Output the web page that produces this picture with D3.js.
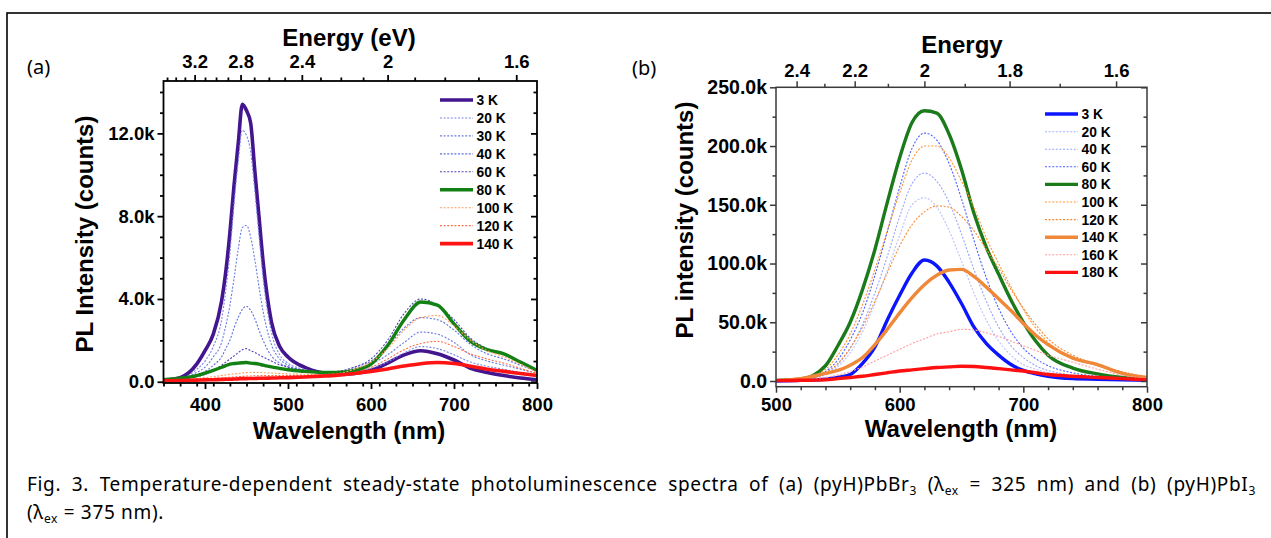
<!DOCTYPE html>
<html>
<head>
<meta charset="utf-8">
<script src="https://cdn.jsdelivr.net/npm/d3@7"></script>
<style>
body { margin: 0; background: #fff; }
svg { display: block; }
</style>
</head>
<body>
<script>
// ---------- panel (a): (pyH)PbBr3, intensity in thousands of counts ----------
var wlA = [350, 370, 390, 400, 410, 420, 425, 430, 435, 440, 445, 450, 455, 460, 465, 470, 480, 490, 500,
           520, 540, 560, 580, 600, 620, 640, 660, 680, 700, 720, 740, 760, 780, 800];
var a3K   = [0.08, 0.2, 0.85, 1.5, 2.3, 3.9, 5.3, 7.2, 9.5, 11.5, 13.4, 13.1, 12.5, 10.2, 8.0, 5.8, 2.9, 1.7, 1.2,
             0.7, 0.45, 0.35, 0.4, 0.55, 0.9, 1.3, 1.5, 1.35, 1.05, 0.65, 0.45, 0.3, 0.18, 0.1];
var a20K  = [0.07, 0.15, 0.6, 1.0, 1.7, 3.0, 4.4, 6.2, 8.6, 10.6, 12.15, 11.9, 11.1, 9.2, 7.1, 5.0, 2.4, 1.3, 0.9,
             0.6, 0.45, 0.4, 0.5, 0.65, 0.95, 1.4, 1.7, 1.6, 1.3, 0.95, 0.75, 0.6, 0.45, 0.3];
var a30K  = [0.06, 0.12, 0.45, 0.7, 1.2, 1.9, 2.7, 3.7, 5.0, 6.4, 7.45, 7.55, 7.0, 5.9, 4.6, 3.4, 1.8, 1.1, 0.8,
             0.55, 0.45, 0.45, 0.6, 0.85, 1.3, 1.9, 2.4, 2.3, 1.9, 1.3, 1.0, 0.8, 0.6, 0.4];
var a40K  = [0.05, 0.1, 0.35, 0.5, 0.8, 1.2, 1.6, 2.0, 2.6, 3.1, 3.5, 3.65, 3.45, 3.05, 2.5, 2.0, 1.25, 0.9, 0.72,
             0.55, 0.45, 0.5, 0.7, 1.0, 1.7, 2.6, 3.1, 3.0, 2.5, 1.8, 1.35, 1.1, 0.8, 0.5];
var a60K  = [0.05, 0.08, 0.25, 0.35, 0.55, 0.8, 0.95, 1.1, 1.25, 1.4, 1.55, 1.6, 1.5, 1.42, 1.3, 1.2, 1.0, 0.82, 0.7,
             0.55, 0.45, 0.5, 0.7, 1.1, 2.0, 3.3, 4.0, 3.7, 3.0, 2.1, 1.6, 1.35, 0.95, 0.5];
var a80K  = [0.1, 0.17, 0.3, 0.42, 0.55, 0.7, 0.78, 0.85, 0.88, 0.9, 0.92, 0.93, 0.9, 0.88, 0.85, 0.8, 0.72, 0.65, 0.58,
             0.5, 0.45, 0.45, 0.55, 0.85, 1.75, 3.0, 3.85, 3.7, 2.8, 1.95, 1.55, 1.35, 0.95, 0.55];
var a100K = [0.05, 0.08, 0.15, 0.2, 0.25, 0.3, 0.33, 0.36, 0.38, 0.4, 0.42, 0.44, 0.45, 0.45, 0.45, 0.44, 0.42, 0.4, 0.38,
             0.36, 0.35, 0.4, 0.6, 0.95, 1.6, 2.5, 3.1, 3.2, 2.7, 2.0, 1.5, 1.2, 0.85, 0.45];
var a120K = [0.04, 0.06, 0.1, 0.13, 0.16, 0.19, 0.2, 0.22, 0.23, 0.25, 0.26, 0.28, 0.28, 0.29, 0.29, 0.3, 0.3, 0.3, 0.3,
             0.3, 0.3, 0.35, 0.45, 0.7, 1.1, 1.55, 1.85, 1.95, 1.7, 1.35, 1.1, 0.9, 0.65, 0.4];
var a140K = [0.05, 0.06, 0.08, 0.09, 0.1, 0.11, 0.12, 0.12, 0.13, 0.14, 0.15, 0.15, 0.16, 0.16, 0.17, 0.17, 0.18, 0.19, 0.2,
             0.23, 0.27, 0.32, 0.4, 0.5, 0.62, 0.76, 0.87, 0.93, 0.88, 0.75, 0.6, 0.5, 0.4, 0.3];
var labelsA = ["3 K", "20 K", "30 K", "40 K", "60 K", "80 K", "100 K", "120 K", "140 K"];
var xTicksA = [400, 500, 600, 700, 800];
var yTicksA = [0, 4, 8, 12];
var eTicksA = [3.2, 2.8, 2.4, 2.0, 1.6];
var eLabelsA = ["3.2", "2.8", "2.4", "2", "1.6"];

// ---------- panel (b): (pyH)PbI3 ----------
var wlB = [500, 520, 540, 550, 560, 570, 580, 590, 600, 610, 620, 630, 640, 650, 660, 670, 680, 690, 700, 710, 720, 740, 760, 780, 800];
var b3K   = [0, 0.5, 1.5, 3, 5.5, 15, 29, 52, 73, 92, 103, 98, 84, 66, 46, 32, 22, 14, 9, 6, 4, 2, 1.5, 1, 0.5];
var b20K  = [0, 0.8, 5, 12, 24, 42, 66, 94, 124, 150, 156, 148, 128, 102, 75, 52, 34, 22, 14, 10, 7, 4, 2.5, 1.5, 1];
var b40K  = [0, 1, 6, 14, 28, 48, 75, 106, 140, 168, 177, 170, 152, 125, 95, 68, 46, 30, 20, 13, 9, 5, 3, 2, 1];
var b60K  = [0, 1, 8, 18, 35, 58, 90, 127, 165, 198, 211, 205, 185, 155, 120, 88, 62, 42, 28, 19, 13, 7, 4, 2.5, 1];
var b80K  = [0.5, 1.5, 13, 30, 50, 78, 112, 152, 190, 220, 230, 228, 210, 180, 143, 114, 91, 69, 50, 34, 22, 11, 6, 3, 1.5];
var b100K = [0.3, 1.5, 10, 22, 40, 65, 95, 128, 160, 188, 200, 200, 190, 170, 148, 122, 100, 80, 61, 45, 33, 20, 13, 7, 3];
var b120K = [0.2, 1, 7, 15, 28, 46, 68, 92, 115, 133, 144, 149, 148, 140, 128, 112, 96, 78, 62, 48, 36, 22, 14, 8, 3];
var b140K = [0.5, 2, 6.5, 9, 13.5, 20, 31, 44, 58, 71, 82, 90, 94.5, 95, 89, 80, 70, 60, 49, 39, 31, 19.5, 14, 6.5, 3];
var b160K = [0, 0.8, 3, 5, 8, 12, 17, 22, 27, 32, 36, 40, 42, 44, 43.5, 41, 38, 34, 30, 26, 22, 16, 10, 5, 2];
var b180K = [0.3, 0.6, 1, 2, 3, 4, 5.5, 7, 8.5, 9.5, 10.5, 11.5, 12, 12.5, 12.3, 11.5, 10.5, 9.5, 8.5, 7, 5.5, 4, 3, 2, 1];
var labelsB = ["3 K", "20 K", "40 K", "60 K", "80 K", "100 K", "120 K", "140 K", "160 K", "180 K"];
var xTicksB = [500, 600, 700, 800];
var yTicksB = [0, 50, 100, 150, 200, 250];
var eTicksB = [2.4, 2.2, 2.0, 1.8, 1.6];
var eLabelsB = ["2.4", "2.2", "2", "1.8", "1.6"];

var FONT = "'Liberation Sans', Arial, Helvetica, sans-serif";
var W = 1271, H = 538;

var svg = d3.select("body").append("svg").attr("width", W).attr("height", H);

// 外框
svg.append("rect").attr("x", 7).attr("y", 13).attr("width", 1300).attr("height", 600)
    .attr("fill", "none").attr("stroke", "#000").attr("stroke-width", 1.6);

// energy (eV) = 1240 / wavelength (nm) -> position on the wavelength scale
function energyScale(x) {
    var f = function (e) { return x(1240 / e); };
    f.copy = function () { return energyScale(x); };
    f.range = function () { return x.range(); };
    return f;
}

function range(a, b, step) {
    var out = [];
    for (var v = a; v <= b + 1e-9; v += step) out.push(+v.toFixed(4));
    return out;
}

function styleAxis(g, color, width, size) {
    g.select(".domain").remove();
    g.selectAll("line").attr("stroke", color).attr("stroke-width", width);
    g.attr("font-family", FONT).attr("font-weight", "bold").attr("font-size", size);
    g.selectAll("text").attr("fill", "#000");
}

function drawPanel(p) {
    var x = d3.scaleLinear().domain(p.xDomain).range([p.left, p.right]);
    var y = d3.scaleLinear().domain(p.yDomain).range([p.bottom, p.top]);
    var e = energyScale(x);
    var yMajor = p.yTicks, yMinor = range(p.yDomain[0] < 0 ? 0 : p.yDomain[0], p.yDomain[1], p.yMinorStep)
        .filter(function (v) { return yMajor.indexOf(v) < 0; });
    var xMinor = range(p.xDomain[0], p.xDomain[1], p.xMinorStep)
        .filter(function (v) { return p.xTicks.indexOf(v) < 0; });
    var eMinor = p.eMinor;

    var clipId = "clip" + p.id;
    svg.append("clipPath").attr("id", clipId).append("rect")
        .attr("x", p.left).attr("y", p.top).attr("width", p.right - p.left).attr("height", p.bottom - p.top);

    // curves
    var line = d3.line()
        .x(function (d) { return x(d[0]); })
        .y(function (d) { return y(d[1]); })
        .curve(d3.curveMonotoneX);
    var gc = svg.append("g").attr("clip-path", "url(#" + clipId + ")");
    p.series.forEach(function (s) {
        var pts = p.wl.map(function (w, i) { return [w, s.values[i]]; });
        gc.append("path").attr("d", line(pts)).attr("fill", "none")
            .attr("stroke", s.color).attr("stroke-width", s.width)
            .attr("stroke-dasharray", s.dash ? "2,1.6" : null)
            .attr("stroke-linejoin", "round");
    });

    // bottom axis
    var gb = svg.append("g").attr("transform", "translate(0," + p.bottom + ")")
        .call(d3.axisBottom(x).tickValues(p.xTicks).tickSize(6).tickPadding(p.xPad).tickFormat(d3.format("d")));
    styleAxis(gb, p.axisColor, p.axisWidth, p.xFont);
    var gbm = svg.append("g").attr("transform", "translate(0," + p.bottom + ")")
        .call(d3.axisBottom(x).tickValues(xMinor).tickSize(3.5).tickFormat(""));
    styleAxis(gbm, p.axisColor, p.axisWidth, p.xFont);

    // left axis
    var gl = svg.append("g").attr("transform", "translate(" + p.left + ",0)")
        .call(d3.axisLeft(y).tickValues(yMajor).tickSize(6).tickPadding(3)
            .tickFormat(function (d) { return d === 0 ? "0.0" : d.toFixed(1) + "k"; }));
    styleAxis(gl, p.axisColor, p.axisWidth, p.yFont);
    var glm = svg.append("g").attr("transform", "translate(" + p.left + ",0)")
        .call(d3.axisLeft(y).tickValues(yMinor).tickSize(3.5).tickFormat(""));
    styleAxis(glm, p.axisColor, p.axisWidth, p.yFont);

    // right axis, ticks inward
    var gr = svg.append("g").attr("transform", "translate(" + p.right + ",0)")
        .call(d3.axisLeft(y).tickValues(yMajor).tickSize(6).tickFormat(""));
    styleAxis(gr, p.axisColor, p.axisWidth, p.yFont);
    var grm = svg.append("g").attr("transform", "translate(" + p.right + ",0)")
        .call(d3.axisLeft(y).tickValues(yMinor).tickSize(3.5).tickFormat(""));
    styleAxis(grm, p.axisColor, p.axisWidth, p.yFont);

    // top energy axis
    var gt = svg.append("g").attr("transform", "translate(0," + p.top + ")")
        .call(d3.axisTop(e).tickValues(p.eTicks).tickSize(6).tickPadding(p.ePad)
            .tickFormat(function (d, i) { return p.eLabels[i]; }));
    styleAxis(gt, p.axisColor, p.axisWidth, p.xFont);
    var gtm = svg.append("g").attr("transform", "translate(0," + p.top + ")")
        .call(d3.axisTop(e).tickValues(eMinor).tickSize(3.5).tickFormat(""));
    styleAxis(gtm, p.axisColor, p.axisWidth, p.xFont);

    // frame
    svg.append("rect").attr("x", p.left).attr("y", p.top)
        .attr("width", p.right - p.left).attr("height", p.bottom - p.top)
        .attr("fill", "none").attr("stroke", p.axisColor).attr("stroke-width", p.axisWidth);

    // titles
    svg.append("text").attr("x", p.xTitleX).attr("y", p.xTitleY).attr("text-anchor", "middle")
        .attr("font-family", FONT).attr("font-weight", "bold").attr("font-size", 24).text("Wavelength (nm)");
    svg.append("text").attr("x", p.eTitleX).attr("y", p.eTitleY).attr("text-anchor", "middle")
        .attr("font-family", FONT).attr("font-weight", "bold").attr("font-size", 24).text(p.eTitle);
    svg.append("text").attr("transform", "translate(" + p.yTitleX + "," + p.yTitleY + ") rotate(-90)")
        .attr("text-anchor", "middle")
        .attr("font-family", FONT).attr("font-weight", "bold").attr("font-size", 24).text(p.yTitle);
    svg.append("text").attr("x", p.tagX).attr("y", p.tagY)
        .attr("font-family", "'Noto Sans', 'Open Sans', sans-serif").attr("font-size", 20).text(p.tag);

    // legend
    var lg = svg.append("g");
    p.series.forEach(function (s, i) {
        var ly = p.legY + i * p.legDy;
        lg.append("line").attr("x1", p.legX1).attr("x2", p.legX2).attr("y1", ly).attr("y2", ly)
            .attr("stroke", s.color).attr("stroke-width", s.width)
            .attr("stroke-dasharray", s.dash ? "2,1.6" : null);
        lg.append("text").attr("x", p.legX2 + 3.5).attr("y", ly).attr("dy", "0.36em")
            .attr("font-family", FONT).attr("font-weight", "bold").attr("font-size", p.legFont)
            .text(s.label);
    });
}

var seriesA = [
    { values: a3K,   color: "#43168f", width: 3.6, dash: false },
    { values: a20K,  color: "#7b86ea", width: 1.1, dash: true },
    { values: a30K,  color: "#6b7ce4", width: 1.1, dash: true },
    { values: a40K,  color: "#5c70dc", width: 1.1, dash: true },
    { values: a60K,  color: "#5242b0", width: 1.1, dash: true },
    { values: a80K,  color: "#138013", width: 3.4, dash: false },
    { values: a100K, color: "#ff9d5c", width: 1.1, dash: true },
    { values: a120K, color: "#ff6e4a", width: 1.1, dash: true },
    { values: a140K, color: "#ff1414", width: 3.6, dash: false }
];
seriesA.forEach(function (s, i) { s.label = labelsA[i]; });

var seriesB = [
    { values: b3K,   color: "#0b16ff", width: 3.4, dash: false },
    { values: b20K,  color: "#b9c0ff", width: 1.1, dash: true },
    { values: b40K,  color: "#97a4ff", width: 1.1, dash: true },
    { values: b60K,  color: "#4a60ff", width: 1.1, dash: true },
    { values: b80K,  color: "#1b7b1b", width: 3.4, dash: false },
    { values: b100K, color: "#ff9530", width: 1.1, dash: true },
    { values: b120K, color: "#f58a36", width: 1.1, dash: true },
    { values: b140K, color: "#f0883a", width: 3.4, dash: false },
    { values: b160K, color: "#ff9c9c", width: 1.1, dash: true },
    { values: b180K, color: "#ff1010", width: 3.4, dash: false }
];
seriesB.forEach(function (s, i) { s.label = labelsB[i]; });

drawPanel({
    id: "a", wl: wlA, series: seriesA,
    xDomain: [350, 800], yDomain: [-0.06, 14.53],
    left: 163.5, right: 537, top: 81, bottom: 383,
    xTicks: xTicksA, xMinorStep: 20, xPad: 9, xFont: 18.5,
    yTicks: yTicksA, yMinorStep: 1, yFont: 18.5,
    eTicks: eTicksA, eLabels: eLabelsA, ePad: 7,
    eMinor: [3.5, 3.4, 3.3, 3.1, 3.0, 2.9, 2.7, 2.6, 2.5, 2.3, 2.2, 2.1, 1.9, 1.8, 1.7],
    axisColor: "#000", axisWidth: 1.8,
    xTitleX: 349, xTitleY: 439, eTitleX: 349, eTitleY: 46, eTitle: "Energy (eV)",
    yTitleX: 93, yTitleY: 234, yTitle: "PL Intensity (counts)",
    tag: "(a)", tagX: 27, tagY: 74,
    legX1: 440, legX2: 473, legY: 100, legDy: 17.95, legFont: 13.8
});

drawPanel({
    id: "b", wl: wlB, series: seriesB,
    xDomain: [500, 800], yDomain: [-4.85, 250],
    left: 776, right: 1147, top: 87.3, bottom: 386.7,
    xTicks: xTicksB, xMinorStep: 20, xPad: 5.5, xFont: 18.5,
    yTicks: yTicksB, yMinorStep: 25, yFont: 19.5,
    eTicks: eTicksB, eLabels: eLabelsB, ePad: 4.5,
    eMinor: [2.3, 2.1, 1.9, 1.7],
    axisColor: "#3a3a3a", axisWidth: 1.5,
    xTitleX: 961, xTitleY: 437, eTitleX: 962, eTitleY: 53, eTitle: "Energy",
    yTitleX: 693, yTitleY: 220, yTitle: "PL intensity (counts)",
    tag: "(b)", tagX: 632, tagY: 75,
    legX1: 1045, legX2: 1078, legY: 114, legDy: 17.6, legFont: 13.8
});

// ---------- caption ----------
var capFont = "'Noto Sans', 'Open Sans', sans-serif";
var capSize = 19;
var cap1 = svg.append("text").attr("x", 27).attr("y", 491)
    .attr("font-family", capFont).attr("font-size", capSize);
cap1.append("tspan").text("Fig. 3. Temperature-dependent steady-state photoluminescence spectra of (a) (pyH)PbBr");
cap1.append("tspan").attr("font-size", 12).attr("dy", 4).text("3");
cap1.append("tspan").attr("dy", -4).text(" (\u03bb");
cap1.append("tspan").attr("font-size", 12).attr("dy", 4).text("ex");
cap1.append("tspan").attr("dy", -4).text(" = 325 nm) and (b) (pyH)PbI");
cap1.append("tspan").attr("font-size", 12).attr("dy", 4).text("3");
// justify the first line: a little extra letter spacing, the rest between words
var capNatural = cap1.node().getComputedTextLength();
var capText = cap1.text();
var capSpaces = (capText.match(/ /g) || []).length;
var capTarget = 1229;
var capExtra = Math.max(0, capTarget - capNatural);
var capLetter = Math.max(0, (capExtra - capSpaces * 5) / capText.length);
var capWord = (capExtra - capLetter * capText.length) / capSpaces;
cap1.attr("letter-spacing", capLetter).attr("word-spacing", capWord);

var cap2 = svg.append("text").attr("x", 27).attr("y", 519)
    .attr("font-family", capFont).attr("font-size", capSize).attr("letter-spacing", capLetter);
cap2.append("tspan").text("(\u03bb");
cap2.append("tspan").attr("font-size", 12).attr("dy", 4).text("ex");
cap2.append("tspan").attr("dy", -4).text(" = 375 nm).");
</script>
</body>
</html>
